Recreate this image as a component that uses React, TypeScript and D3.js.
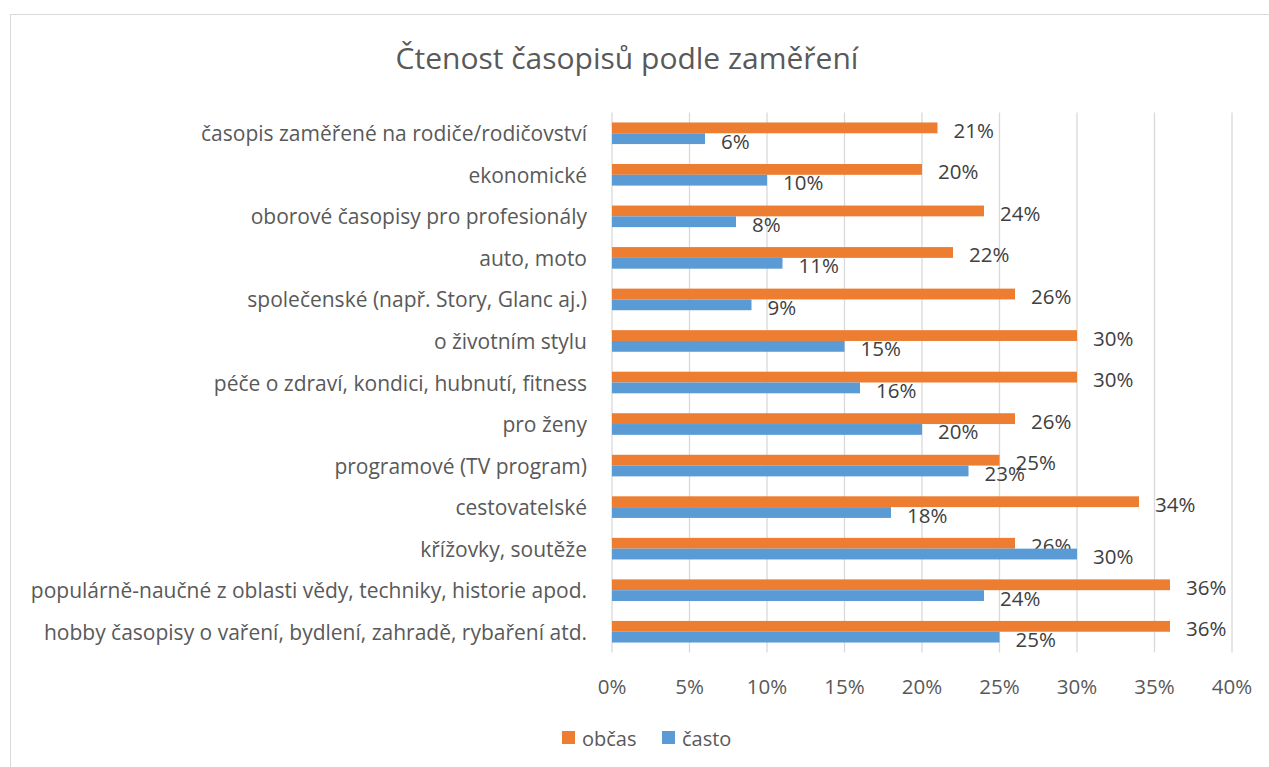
import React from "react";
import * as d3 from "d3";

const categories = [
  "časopis zaměřené na rodiče/rodičovství",
  "ekonomické",
  "oborové časopisy pro profesionály",
  "auto, moto",
  "společenské (např. Story, Glanc aj.)",
  "o životním stylu ",
  "péče o zdraví, kondici, hubnutí, fitness",
  "pro ženy ",
  "programové (TV program)",
  "cestovatelské",
  "křížovky, soutěže ",
  "populárně-naučné z oblasti vědy, techniky, historie apod.",
  "hobby časopisy o vaření, bydlení, zahradě, rybaření atd.",
];
const obcas = [0.21, 0.2, 0.24, 0.22, 0.26, 0.3, 0.3, 0.26, 0.25, 0.34, 0.26, 0.36, 0.36];
const casto = [0.06, 0.1, 0.08, 0.11, 0.09, 0.15, 0.16, 0.2, 0.23, 0.18, 0.3, 0.24, 0.25];
const seriesNames = ["občas", "často"];
const seriesColors = ["#ED7D31", "#5B9BD5"];
const xTicks = [0, 0.05, 0.1, 0.15, 0.2, 0.25, 0.3, 0.35, 0.4];
const title = "Čtenost časopisů podle zaměření";

const FONT = "'Open Sans', sans-serif";

export default function App() {
  const W = 1269, H = 767;
  const x = d3.scaleLinear().domain([0, 0.4]).range([612, 1232]);
  const y = d3.scaleBand<string>().domain(categories).range([112.5, 652.5]).paddingInner(0.48).paddingOuter(0.24);
  const sub = d3.scaleBand<string>().domain(seriesNames).range([0, y.bandwidth()]);
  const fmt = d3.format(".0%");
  const values = [obcas, casto];
  const legendX = [562, 662];

  return (
    <svg width={W} height={H} style={{ position: "absolute", left: 0, top: 0 }} fontFamily={FONT}>
      <rect x={0} y={0} width={W} height={H} fill="#fff" />
      <rect x={10.5} y={14.5} width={W + 10} height={H + 10} fill="#fff" stroke="#d9d9d9" strokeWidth={1} />
      <text x={627} y={57} textAnchor="middle" dominantBaseline="central" fontSize={30} fill="#595959">{title}</text>
      {xTicks.map((t) => (
        <g key={t}>
          <line x1={x(t)} x2={x(t)} y1={112.5} y2={652.5} stroke="#d9d9d9" strokeWidth={1.3} />
          <text x={x(t)} y={686} textAnchor="middle" dominantBaseline="central" fontSize={20.5} fill="#595959">{fmt(t)}</text>
        </g>
      ))}
      {categories.map((c, i) => (
        <g key={c}>
          <text x={587} y={(y(c) as number) + y.bandwidth() / 2} textAnchor="end" dominantBaseline="central" fontSize={21} fill="#595959">{c}</text>
          {seriesNames.map((s, j) => {
            const v = values[j][i];
            const by = (y(c) as number) + (sub(s) as number);
            const bh = sub.bandwidth();
            return (
              <g key={s}>
                <rect x={x(0)} y={by} width={x(v) - x(0)} height={bh} fill={seriesColors[j]} />
                <text x={x(v) + 16} y={by + bh / 2 + 2} dominantBaseline="central" fontSize={20.5} fill="#404040">{fmt(v)}</text>
              </g>
            );
          })}
        </g>
      ))}
      {seriesNames.map((s, j) => (
        <g key={s}>
          <rect x={legendX[j]} y={731} width={13} height={13} fill={seriesColors[j]} />
          <text x={legendX[j] + 20} y={738} dominantBaseline="central" fontSize={20} fill="#595959">{s}</text>
        </g>
      ))}
    </svg>
  );
}
